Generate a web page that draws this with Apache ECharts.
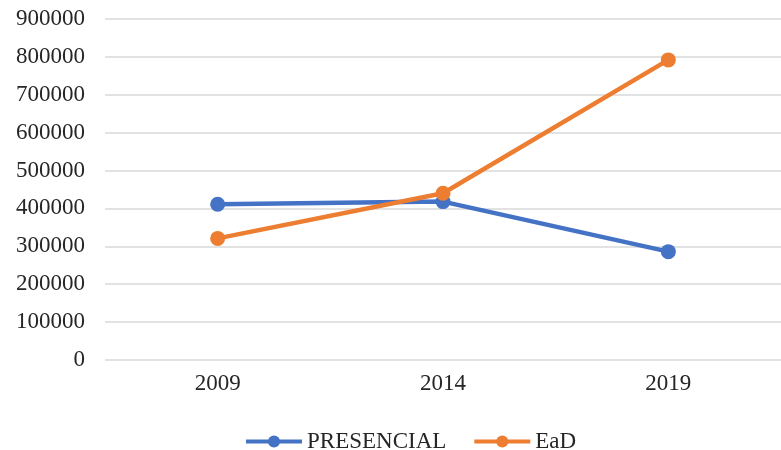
<!DOCTYPE html>
<html>
<head>
<meta charset="utf-8">
<script src="https://cdn.jsdelivr.net/npm/echarts@6/dist/echarts.min.js"></script>
<style>
  html, body { margin: 0; padding: 0; background: #fff; }
  #chart { width: 781px; height: 450px; }
</style>
</head>
<body>
<div id="chart"></div>
<script>
// Student enrolments by modality
const years = ['2009', '2014', '2019'];
const presencial = [411000, 418000, 286000];
const ead = [321000, 440000, 792000];
const yTicks = [0, 100000, 200000, 300000, 400000, 500000, 600000, 700000, 800000, 900000];

const serif = '"Liberation Serif", "Times New Roman", serif';
const textColor = '#262626';

const chart = echarts.init(document.getElementById('chart'));
chart.setOption({
  animation: false,
  textStyle: { fontFamily: serif },
  grid: { left: 105, right: 0, top: 19, bottom: 90 },
  legend: {
    top: 425,
    left: 239,
    itemWidth: 56,
    itemHeight: 15,
    itemGap: 26,
    lineStyle: { width: 4 },
    textStyle: { fontFamily: serif, fontSize: 23, color: textColor },
    data: ['PRESENCIAL', 'EaD']
  },
  xAxis: {
    type: 'category',
    data: years,
    boundaryGap: true,
    axisLine: { show: false },
    axisTick: { show: false },
    axisLabel: { fontFamily: serif, fontSize: 23, color: textColor, margin: 12 }
  },
  yAxis: {
    type: 'value',
    min: yTicks[0],
    max: yTicks[yTicks.length - 1],
    interval: 100000,
    axisLine: { show: false },
    axisTick: { show: false },
    axisLabel: {
      fontFamily: serif, fontSize: 23, color: textColor, margin: 20,
      formatter: (v) => String(v)
    },
    splitLine: { lineStyle: { color: '#d9d9d9', width: 1.5 } }
  },
  series: [
    {
      name: 'PRESENCIAL',
      type: 'line',
      data: presencial,
      symbol: 'circle',
      symbolSize: 15,
      itemStyle: { color: '#4472C4' },
      lineStyle: { color: '#4472C4', width: 4.5 }
    },
    {
      name: 'EaD',
      type: 'line',
      data: ead,
      symbol: 'circle',
      symbolSize: 15,
      itemStyle: { color: '#ED7D31' },
      lineStyle: { color: '#ED7D31', width: 4.5 }
    }
  ]
});
</script>
</body>
</html>
